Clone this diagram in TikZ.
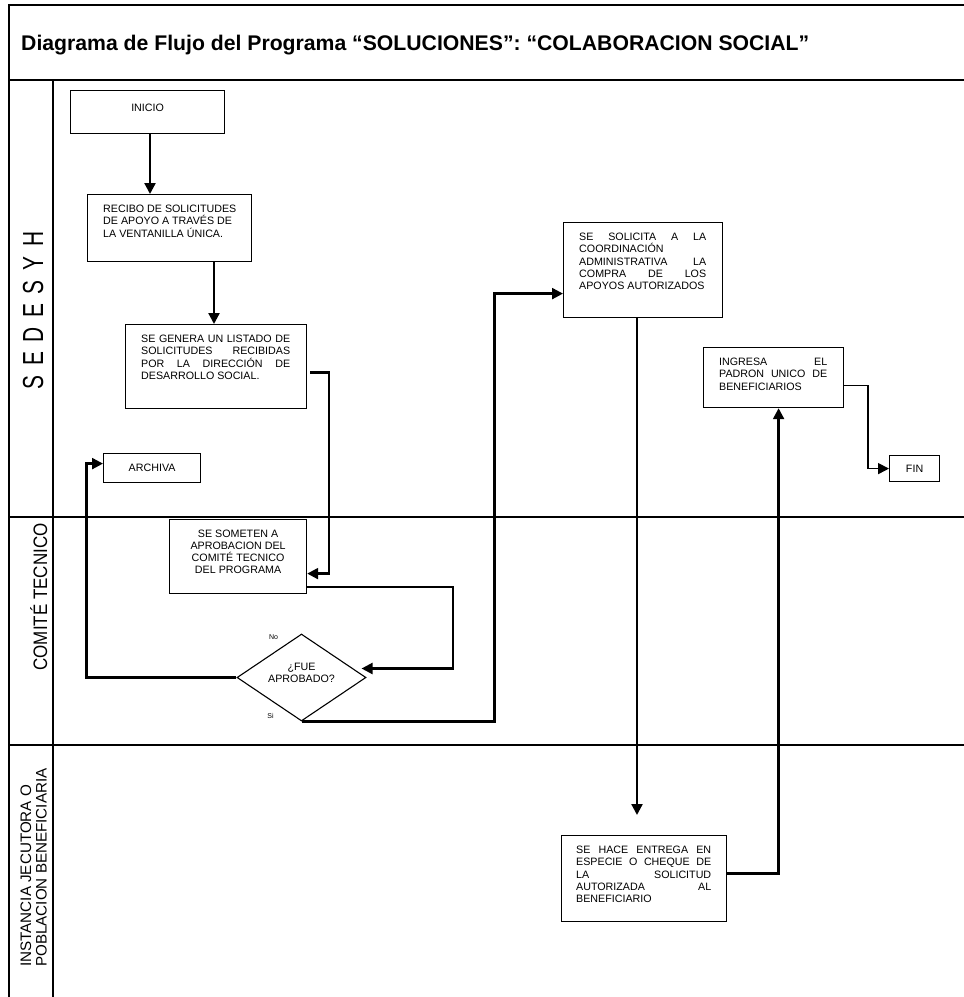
\documentclass[tikz,border=0pt]{standalone}
\usepackage{fontspec}
\usepackage{graphicx}
\setmainfont{Liberation Sans}
\usetikzlibrary{shapes.geometric,arrows.meta,calc}
\newcommand{\jst}[2]{\makebox[#1][s]{#2}}
\newcommand{\lsp}[1]{\makebox[33.3pt]{#1}}
\tikzset{
  frameline/.style={line width=2.6pt},
  laneline/.style={line width=2.3pt},
  pbox/.style={draw, line width=1.2pt, inner sep=0pt, anchor=north west},
  ptext/.style={inner sep=0pt, anchor=north west, font=\fontsize{10.7}{12.2}\selectfont, align=left},
  ctext/.style={inner sep=0pt, font=\fontsize{10.7}{12.2}\selectfont, align=center},
  conn/.style={line width=2.3pt, -{Triangle[length=11pt,width=11pt]}},
  small/.style={inner sep=0pt, font=\fontsize{7}{8}\selectfont},
}
\begin{document}
\begin{tikzpicture}[x=1pt,y=-1pt]
\useasboundingbox (0,0) rectangle (964,997);
% frame
\draw[frameline, line join=miter] (9,997) -- (9,5) -- (964,5);
\draw[frameline] (9,80) -- (964,80);
\draw[frameline] (53,80) -- (53,997);
\draw[laneline] (9,517) -- (964,517);
\draw[laneline] (9,745) -- (964,745);
% title
\node[anchor=base west, inner sep=0pt, font=\bfseries\fontsize{21.2}{25}\selectfont] (title) at (21,50)
  {Diagrama de Flujo del Programa “SOLUCIONES”: “COLABORACION SOCIAL”};
% lane labels
\node[rotate=90, anchor=base, inner sep=0pt, font=\fontsize{29}{30}\selectfont] (lane1) at (43,311)
  {\scalebox{0.72}[1]{\lsp{S}\lsp{E}\lsp{D}\lsp{E}\lsp{S}\lsp{Y}\lsp{H}}};
\node[rotate=90, anchor=base, inner sep=0pt, font=\fontsize{19.5}{20}\selectfont] (lane2) at (47,597)
  {\scalebox{0.87}[1]{COMITÉ TECNICO}};
\node[rotate=90, anchor=south west, inner sep=0pt, align=left, font=\fontsize{15.2}{15.5}\selectfont] (lane3) at (47,967)
  {INSTANCIA JECUTORA O\\POBLACION BENEFICIARIA};
% boxes
\node[pbox, minimum width=154pt, minimum height=43pt] (inicio) at (70,90) {};
\node[ctext] (inicioT) at ($(inicio.north)+(0,18)$) {INICIO};

\node[pbox, minimum width=164pt, minimum height=67pt] (recibo) at (87,194) {};
\node[ptext] (reciboT) at ($(recibo.north west)+(16,11)$)
  {RECIBO DE SOLICITUDES\\DE APOYO A TRAVÉS DE\\LA VENTANILLA ÚNICA.};

\node[pbox, minimum width=181pt, minimum height=84pt] (genera) at (125,324) {};
\node[ptext] (generaT) at ($(genera.north west)+(16,11)$)
  {\jst{149pt}{SE GENERA UN LISTADO DE}\\\jst{149pt}{SOLICITUDES RECIBIDAS}\\\jst{149pt}{POR LA DIRECCIÓN DE}\\DESARROLLO SOCIAL.};

\node[pbox, minimum width=137pt, minimum height=74pt] (someten) at (169,519) {};
\node[ctext] (sometenT) at ($(someten.north)+(0,33)$)
  {SE SOMETEN A\\APROBACION DEL\\COMITÉ TECNICO\\DEL PROGRAMA};

\node[pbox, minimum width=97pt, minimum height=29pt] (archiva) at (103,453) {};
\node[ctext] (archivaT) at (archiva.center) {ARCHIVA};

\node[draw, diamond, line width=1.1pt, inner sep=0pt, minimum width=129pt, minimum height=87pt] (dia) at (301.5,677.5) {};
\node[ctext] (diaT) at ($(dia.center)+(0,-5)$) {¿FUE\\APROBADO?};
\node[small] (no) at ($(dia.north)+(-28,4)$) {No};
\node[small] (si) at ($(dia.south)+(-31,-6)$) {Si};

\node[pbox, minimum width=159pt, minimum height=95pt] (solicita) at (563,222) {};
\node[ptext] (solicitaT) at ($(solicita.north west)+(16,11)$)
  {\jst{127pt}{SE SOLICITA A LA}\\COORDINACIÓN\\\jst{127pt}{ADMINISTRATIVA LA}\\\jst{127pt}{COMPRA DE LOS}\\APOYOS AUTORIZADOS};

\node[pbox, minimum width=140pt, minimum height=60pt] (ingresa) at (703,347) {};
\node[ptext] (ingresaT) at ($(ingresa.north west)+(16,11)$)
  {\jst{108pt}{INGRESA EL}\\\jst{108pt}{PADRON UNICO DE}\\BENEFICIARIOS};

\node[pbox, minimum width=50pt, minimum height=26pt] (fin) at (889,455) {};
\node[ctext] (finT) at (fin.center) {FIN};

\node[pbox, minimum width=165pt, minimum height=86pt] (hace) at (561,835) {};
\node[ptext] (haceT) at ($(hace.north west)+(15,11)$)
  {\jst{135pt}{SE HACE ENTREGA EN}\\\jst{135pt}{ESPECIE O CHEQUE DE}\\\jst{135pt}{LA SOLICITUD}\\\jst{135pt}{AUTORIZADA AL}\\BENEFICIARIO};

% connectors
\coordinate (c1) at (150,0);
\draw[conn] (inicio.south -| c1) -- (recibo.north -| c1);
\coordinate (c2) at (214,0);
\draw[conn] (recibo.south -| c2) -- (genera.north -| c2);
\draw[conn] ($(genera.east)+(3,6)$) -- ++(19,0) |- ($(someten.east)+(0,17)$);
\draw[conn] ($(someten.south east)+(0,-7)$) -- ++(146,0) |- ($(dia.east)+(-5,-9)$);
\draw[conn] (dia.west) -- ++(-150,0) |- ($(archiva.west)+(0,-4.5)$);
\draw[conn] (dia.south) -- ++(193,0) |- ($(solicita.west)+(0,23.5)$);
\coordinate (t7) at (637,815);
\draw[conn] (solicita.south -| t7) -- (t7);
\draw[conn] ($(hace.east)+(0,-5)$) -| ($(ingresa.south)+(5,0)$);
\draw[conn, line width=1.6pt] ($(ingresa.east)+(0,8)$) -- ++(24,0) |- (fin.west);
\end{tikzpicture}
\end{document}
